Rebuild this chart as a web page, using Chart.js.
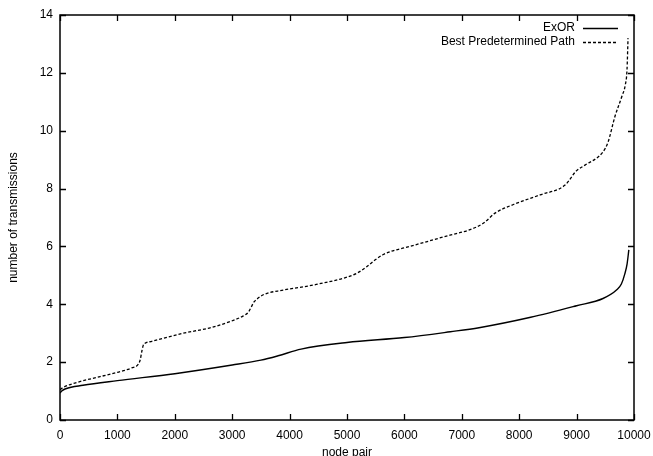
<!DOCTYPE html>
<html>
<head>
<meta charset="utf-8">
<script src="https://cdn.jsdelivr.net/npm/chart.js@4"></script>
<style>
html,body{margin:0;padding:0;background:#fff;}
#wrap{width:653px;height:456px;position:relative;}
</style>
</head>
<body>
<div id="wrap"><canvas id="c" width="653" height="456"></canvas></div>
<script>
const seriesNames = ["ExOR", "Best Predetermined Path"];
const xTickValues = [0,1000,2000,3000,4000,5000,6000,7000,8000,9000,10000];
const yTickValues = [0,2,4,6,8,10,12,14];

const exorX = [0, 30, 100, 400, 1000, 2000, 3000, 3500, 3800, 4200, 5000, 6000, 6800, 7300, 8200, 9000, 9460, 9700, 9780, 9840, 9880, 9910];
const exorY = [0.93, 1.0, 1.08, 1.2, 1.36, 1.6, 1.9, 2.07, 2.22, 2.45, 2.68, 2.85, 3.05, 3.19, 3.55, 3.95, 4.2, 4.5, 4.7, 5.05, 5.4, 5.88];

const pathX = [0, 50, 300, 700, 1000, 1250, 1365, 1400, 1423, 1450, 1481, 1600, 2150, 2600, 2962, 3194, 3280, 3330, 3380, 3426, 3542, 3890, 4500, 5168, 5343, 5500, 5633, 5800, 6000, 6794, 7100, 7375, 7578, 7900, 8362, 8798, 9000, 9146, 9460, 9547, 9669, 9791, 9850, 9878, 9896];
const pathY = [1.05, 1.12, 1.3, 1.5, 1.65, 1.8, 1.93, 2.1, 2.35, 2.58, 2.65, 2.72, 3.0, 3.18, 3.4, 3.6, 3.72, 3.9, 4.08, 4.17, 4.33, 4.49, 4.7, 5.07, 5.3, 5.55, 5.72, 5.85, 5.95, 6.39, 6.55, 6.8, 7.15, 7.45, 7.78, 8.12, 8.62, 8.81, 9.27, 9.6, 10.5, 11.2, 11.6, 12.1, 13.2];

const FONT = "'Liberation Sans', Arial, Helvetica, sans-serif";
const toPts = (xs, ys) => xs.map((x, i) => ({x: x, y: ys[i]}));

const frameAndTicks = {
  id: 'frameAndTicks',
  afterDraw(chart) {
    const {ctx, chartArea: a, scales} = chart;
    const xs = scales.x, ys = scales.y;
    const tl = 6;
    ctx.save();
    ctx.strokeStyle = '#000';
    ctx.lineWidth = 1.3;
    ctx.beginPath();
    xTickValues.forEach(v => {
      const px = Math.round(xs.getPixelForValue(v)) + 0.5;
      ctx.moveTo(px, a.bottom); ctx.lineTo(px, a.bottom - tl);
      ctx.moveTo(px, a.top); ctx.lineTo(px, a.top + tl);
    });
    yTickValues.forEach(v => {
      const py = Math.round(ys.getPixelForValue(v)) + 0.5;
      ctx.moveTo(a.left, py); ctx.lineTo(a.left + tl, py);
      ctx.moveTo(a.right, py); ctx.lineTo(a.right - tl, py);
    });
    ctx.stroke();
    ctx.lineWidth = 1.5;
    ctx.strokeRect(a.left, a.top, a.right - a.left, a.bottom - a.top);
    // legend
    ctx.font = '12px ' + FONT;
    ctx.fillStyle = '#000';
    ctx.textAlign = 'right';
    ctx.textBaseline = 'middle';
    const ys0 = [28, 41.5];
    chart.data.datasets.forEach((ds, i) => {
      const y = ys0[i];
      ctx.fillText(ds.label, a.right - 59, y);
      ctx.save();
      ctx.lineWidth = ds.borderWidth;
      ctx.setLineDash(ds.borderDash || []);
      ctx.beginPath();
      ctx.moveTo(a.right - 51, Math.round(y) + 0.5);
      ctx.lineTo(a.right - 16, Math.round(y) + 0.5);
      ctx.stroke();
      ctx.restore();
    });
    ctx.restore();
  }
};

new Chart(document.getElementById('c'), {
  type: 'line',
  data: {
    datasets: [
      {label: seriesNames[0], data: toPts(exorX, exorY), borderColor: '#000', borderWidth: 1.4,
       pointRadius: 0, fill: false, cubicInterpolationMode: 'monotone'},
      {label: seriesNames[1], data: toPts(pathX, pathY), borderColor: '#000', borderWidth: 1.3,
       borderDash: [3, 2], pointRadius: 0, fill: false, cubicInterpolationMode: 'monotone'}
    ]
  },
  options: {
    responsive: false,
    animation: false,
    devicePixelRatio: 1,
    layout: {padding: {left: 0, right: 19, top: 15, bottom: 0}},
    plugins: {legend: {display: false}, tooltip: {enabled: false}},
    scales: {
      x: {
        type: 'linear', min: 0, max: 10000,
        afterBuildTicks: s => { s.ticks = xTickValues.map(v => ({value: v})); },
        afterFit: s => { s.height = 36; s.paddingLeft = 0; s.paddingRight = 0; },
        grid: {display: false, drawTicks: false},
        border: {display: false},
        ticks: {color: '#000', font: {family: FONT, size: 12}, padding: 8, maxRotation: 0, autoSkip: false,
                callback: v => String(v)},
        title: {display: true, text: 'node pair', color: '#000', font: {family: FONT, size: 12, lineHeight: 1}, padding: {top: 0, bottom: -3}}
      },
      y: {
        type: 'linear', min: 0, max: 14,
        afterBuildTicks: s => { s.ticks = yTickValues.map(v => ({value: v})); },
        afterFit: s => { s.width = 60; s.paddingTop = 0; s.paddingBottom = 0; },
        grid: {display: false, drawTicks: false},
        border: {display: false},
        ticks: {color: '#000', font: {family: FONT, size: 12}, padding: 7, callback: v => String(v)},
        title: {display: true, text: 'number of transmissions', color: '#000', font: {family: FONT, size: 12, lineHeight: 1}, padding: {top: 8, bottom: 0}}
      }
    }
  },
  plugins: [frameAndTicks]
});
</script>
</body>
</html>
